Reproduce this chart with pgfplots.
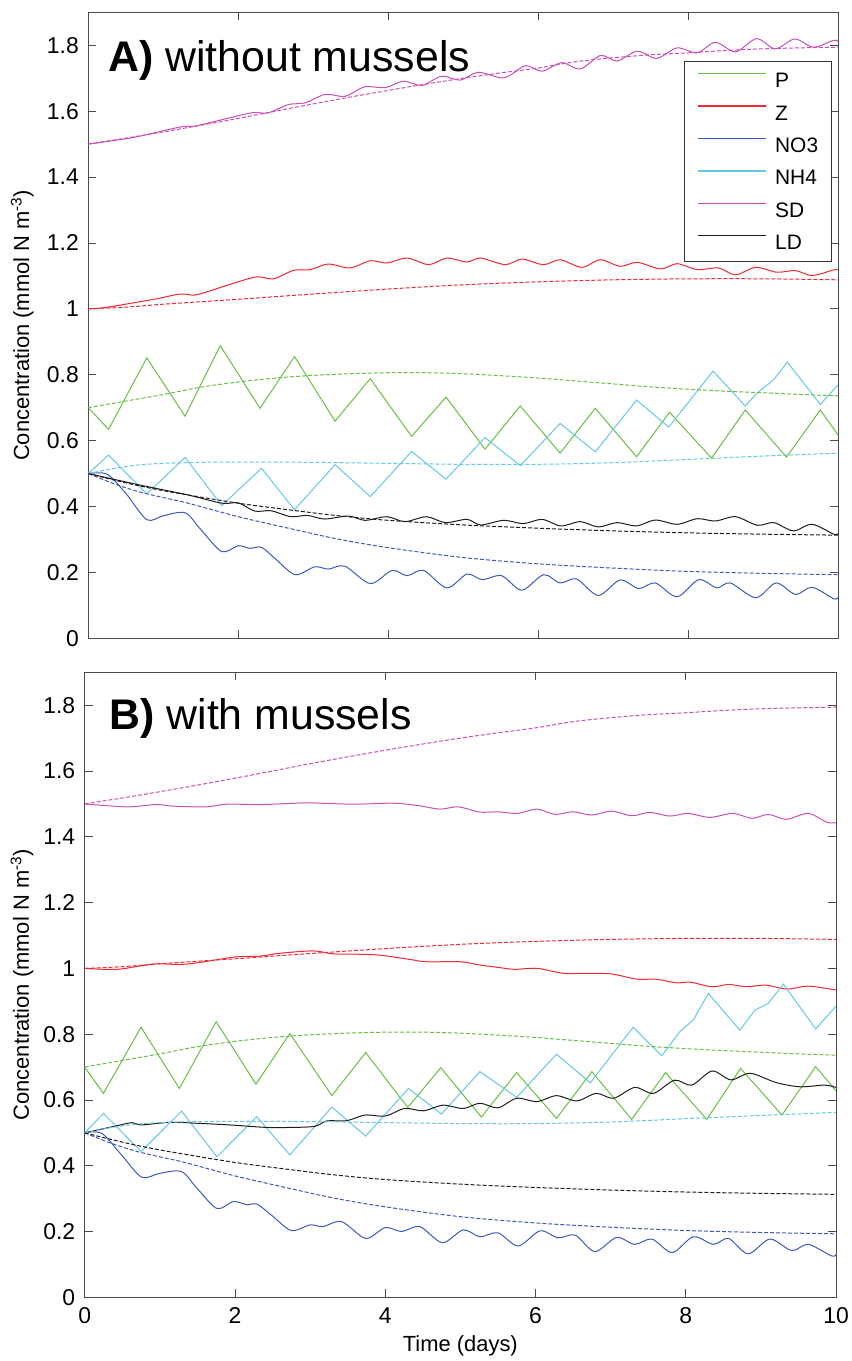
\documentclass[border=0pt]{standalone}
\usepackage{fontspec}
\setmainfont{Liberation Sans}
\usepackage{pgfplots}
\pgfplotsset{compat=1.18}
\definecolor{cP}{RGB}{105,190,70}
\definecolor{cZ}{RGB}{240,40,50}
\definecolor{cNO}{RGB}{60,90,190}
\definecolor{cNH}{RGB}{100,200,230}
\definecolor{cSD}{RGB}{200,80,180}
\definecolor{cLD}{RGB}{30,30,30}
\pgfplotsset{
  panel/.style={
    scale only axis, anchor=south west,
    xmin=0, xmax=10, ymin=0, ymax=1.9,
    xtick={0,2,4,6,8,10},
    ytick={0,0.2,0.4,0.6,0.8,1,1.2,1.4,1.6,1.8},
    tick align=inside, major tick length=8bp,
    axis line style={black!70, line width=0.8bp},
    tick style={black!70, line width=0.8bp},
    ticklabel style={font=\fontsize{23}{23}\selectfont, text=black},
    yticklabel style={xshift=-6bp},
    xticklabel style={yshift=-7bp},
    /pgf/number format/assume math mode=true,
    ylabel={Concentration (mmol N m\textsuperscript{-3})},
    label style={font=\fontsize{22}{22}\selectfont},
    clip=true,
  },
  das/.style={line width=1bp, dash pattern=on 4bp off 2bp, forget plot, smooth},
}
\begin{document}
\begin{tikzpicture}
\useasboundingbox (0,0) rectangle (852bp,1361bp);
% ---------------- Panel A ----------------
\begin{axis}[panel, at={(88.3bp,722.7bp)}, width=750bp, height=626bp,
  xticklabels={},
  ylabel style={at={(axis description cs:-0.088,0.5)}, anchor=center},
  legend style={at={(0.991,0.9227)}, anchor=north east, draw=black!80, line width=0.8bp, fill=white,
    font=\fontsize{21}{21}\selectfont, inner xsep=13bp, inner ysep=12bp, row sep=17.7bp,
    nodes={inner sep=0pt, text height=14bp, text depth=0bp},
    /tikz/every odd column/.append style={column sep=8bp}},
  legend cell align=left,
  legend image code/.code={\draw[#1, line width=1.4bp] (0bp,7bp) -- (68bp,7bp);},
]
\addplot[color=cP, line width=1bp, sharp plot] coordinates {(0,0.70)(0.27,0.634)(0.78,0.851)(1.29,0.674)(1.76,0.888)(2.29,0.698)(2.75,0.855)(3.29,0.659)(3.76,0.788)(4.31,0.613)(4.77,0.732)(5.29,0.574)(5.76,0.705)(6.29,0.562)(6.76,0.698)(7.31,0.551)(7.75,0.686)(8.31,0.547)(8.76,0.693)(9.31,0.55)(9.76,0.693)(10,0.616)};
\addlegendentry{P}
\addplot[color=cZ, line width=1bp, smooth] coordinates {(0,1.0)(0.2,1.003)(0.47,1.013)(0.9,1.03)(1.23,1.045)(1.45,1.043)(1.94,1.078)(2.25,1.097)(2.47,1.091)(2.74,1.117)(2.96,1.119)(3.2,1.136)(3.49,1.124)(3.76,1.146)(3.98,1.139)(4.25,1.154)(4.54,1.134)(4.78,1.154)(5.05,1.142)(5.23,1.154)(5.56,1.134)(5.78,1.151)(6.07,1.134)(6.29,1.149)(6.58,1.126)(6.83,1.149)(7.09,1.129)(7.32,1.141)(7.63,1.121)(7.85,1.137)(8.12,1.119)(8.4,1.124)(8.63,1.103)(8.9,1.126)(9.18,1.111)(9.43,1.116)(9.65,1.101)(9.94,1.118)(10,1.117)};
\addlegendentry{Z}
\addplot[color=cNO, line width=1bp, smooth] coordinates {(0,0.5)(0.25,0.498)(0.5,0.44)(0.78,0.36)(1.0,0.372)(1.29,0.381)(1.5,0.33)(1.78,0.263)(2.0,0.281)(2.15,0.273)(2.31,0.276)(2.5,0.24)(2.76,0.193)(3.02,0.217)(3.2,0.21)(3.42,0.219)(3.76,0.166)(4.05,0.206)(4.25,0.19)(4.47,0.206)(4.78,0.153)(5.05,0.195)(5.25,0.178)(5.51,0.19)(5.78,0.146)(6.07,0.193)(6.29,0.168)(6.51,0.18)(6.8,0.13)(7.09,0.177)(7.34,0.151)(7.56,0.168)(7.85,0.126)(8.14,0.178)(8.38,0.153)(8.56,0.168)(8.9,0.123)(9.17,0.168)(9.43,0.133)(9.65,0.155)(9.94,0.12)(10,0.125)};
\addlegendentry{NO3}
\addplot[color=cNH, line width=1bp, sharp plot] coordinates {(0,0.5)(0.27,0.556)(0.78,0.438)(1.29,0.549)(1.78,0.403)(2.31,0.516)(2.75,0.39)(3.29,0.527)(3.76,0.43)(4.31,0.567)(4.77,0.483)(5.29,0.609)(5.76,0.524)(6.29,0.652)(6.76,0.566)(7.31,0.723)(7.74,0.641)(8.33,0.811)(8.76,0.705)(8.92,0.745)(9.14,0.785)(9.32,0.838)(9.76,0.71)(10,0.77)};
\addlegendentry{NH4}
\addplot[color=cSD, line width=1bp, smooth] coordinates {(0,1.5)(0.6,1.52)(1.23,1.552)(1.43,1.555)(1.8,1.575)(2.18,1.595)(2.4,1.595)(2.67,1.62)(2.89,1.625)(3.16,1.651)(3.42,1.645)(3.69,1.674)(3.96,1.671)(4.2,1.691)(4.45,1.678)(4.71,1.706)(4.96,1.694)(5.2,1.718)(5.54,1.701)(5.83,1.738)(6.05,1.721)(6.31,1.747)(6.56,1.728)(6.83,1.769)(7.05,1.752)(7.32,1.782)(7.58,1.76)(7.85,1.792)(8.12,1.777)(8.36,1.809)(8.63,1.78)(8.91,1.82)(9.16,1.789)(9.42,1.819)(9.67,1.794)(9.94,1.815)(10,1.81)};
\addlegendentry{SD}
\addplot[color=cLD, line width=1bp, smooth] coordinates {(0,0.5)(0.67,0.466)(1.33,0.435)(1.78,0.41)(2.0,0.411)(2.22,0.386)(2.44,0.387)(2.7,0.369)(2.92,0.373)(3.15,0.362)(3.47,0.371)(3.69,0.358)(3.98,0.369)(4.22,0.354)(4.51,0.369)(4.76,0.351)(5.05,0.361)(5.23,0.344)(5.54,0.358)(5.8,0.348)(6.05,0.361)(6.3,0.341)(6.56,0.354)(6.8,0.338)(7.05,0.351)(7.31,0.341)(7.56,0.359)(7.85,0.346)(8.12,0.363)(8.36,0.356)(8.63,0.369)(8.92,0.343)(9.14,0.351)(9.4,0.326)(9.65,0.346)(9.94,0.316)(10,0.318)};
\addlegendentry{LD}
% dashed reference runs
\addplot[das, color=cP] coordinates {(0,0.70)(0.5,0.72)(1,0.74)(1.5,0.762)(2,0.778)(2.5,0.79)(3,0.798)(3.5,0.803)(4,0.806)(4.5,0.806)(5,0.803)(5.5,0.797)(6,0.79)(6.5,0.781)(7,0.772)(7.5,0.763)(8,0.756)(8.5,0.75)(9,0.745)(9.5,0.74)(10,0.736)};
\addplot[das, color=cZ] coordinates {(0,1.0)(0.5,1.005)(1,1.014)(2,1.029)(3,1.045)(4,1.06)(5,1.073)(6,1.082)(7,1.088)(8,1.091)(9,1.091)(10,1.088)};
\addplot[das, color=cNO] coordinates {(0,0.5)(0.33,0.47)(0.67,0.445)(1,0.427)(1.33,0.41)(2,0.369)(2.67,0.334)(3.33,0.301)(4,0.275)(5,0.245)(6,0.226)(7,0.213)(8,0.203)(9,0.197)(10,0.193)};
\addplot[das, color=cNH] coordinates {(0,0.5)(0.33,0.515)(0.67,0.526)(1,0.531)(1.5,0.534)(2,0.535)(3,0.534)(4,0.531)(5,0.528)(6,0.528)(7,0.533)(8,0.543)(9,0.553)(10,0.562)};
\addplot[das, color=cSD] coordinates {(0,1.5)(0.5,1.518)(1,1.537)(1.5,1.557)(2,1.578)(2.5,1.6)(3,1.622)(3.5,1.643)(4,1.663)(4.5,1.682)(5,1.7)(5.5,1.716)(6,1.731)(6.5,1.75)(7,1.762)(7.5,1.771)(8,1.777)(8.5,1.784)(9,1.789)(9.5,1.792)(10,1.794)};
\addplot[das, color=cLD] coordinates {(0,0.5)(0.33,0.481)(0.67,0.463)(1,0.448)(1.33,0.435)(2,0.41)(2.67,0.39)(3.33,0.372)(4,0.358)(5,0.344)(6,0.334)(7,0.326)(8,0.32)(9,0.316)(10,0.313)};
\node[anchor=base west, inner sep=0pt, font=\fontsize{43}{43}\selectfont] at (rel axis cs:0.0263,0.905) {\textbf{A)} without mussels};
\end{axis}
% ---------------- Panel B ----------------
\begin{axis}[panel, at={(84.7bp,63.7bp)}, width=751.3bp, height=625bp,
  xlabel={Time (days)},
  xlabel style={at={(axis description cs:0.5,-0.078)}, anchor=center},
  ylabel style={at={(axis description cs:-0.0835,0.5)}, anchor=center},
]
\addplot[color=cP, line width=1bp, sharp plot] coordinates {(0,0.699)(0.25,0.62)(0.75,0.821)(1.26,0.635)(1.75,0.838)(2.28,0.648)(2.73,0.802)(3.29,0.613)(3.74,0.744)(4.3,0.577)(4.74,0.698)(5.28,0.548)(5.75,0.683)(6.28,0.544)(6.75,0.686)(7.28,0.541)(7.73,0.683)(8.28,0.541)(8.73,0.696)(9.28,0.554)(9.73,0.701)(10,0.628)};
\addplot[color=cZ, line width=1bp, smooth] coordinates {(0,1.0)(0.43,0.997)(0.91,1.013)(1.22,1.012)(1.44,1.015)(2.02,1.035)(2.33,1.037)(2.6,1.046)(3.04,1.053)(3.31,1.044)(3.62,1.043)(3.93,1.04)(4.33,1.027)(4.55,1.02)(5.0,1.02)(5.26,1.01)(5.5,1.003)(5.72,0.997)(6.02,1.0)(6.37,0.985)(6.68,0.985)(7.01,0.983)(7.35,0.967)(7.6,0.967)(7.88,0.956)(8.06,0.958)(8.35,0.944)(8.57,0.951)(8.81,0.944)(9.06,0.949)(9.35,0.937)(9.63,0.946)(10,0.934)};
\addplot[color=cNO, line width=1bp, smooth] coordinates {(0,0.5)(0.23,0.498)(0.5,0.43)(0.76,0.365)(1.0,0.377)(1.29,0.382)(1.5,0.33)(1.76,0.27)(1.98,0.291)(2.17,0.281)(2.29,0.284)(2.5,0.247)(2.75,0.203)(3.0,0.22)(3.17,0.215)(3.42,0.23)(3.74,0.179)(4.0,0.212)(4.22,0.2)(4.46,0.215)(4.76,0.166)(5.04,0.205)(5.26,0.184)(5.5,0.196)(5.77,0.156)(6.06,0.202)(6.3,0.181)(6.53,0.189)(6.79,0.139)(7.08,0.182)(7.32,0.161)(7.55,0.177)(7.82,0.136)(8.1,0.184)(8.37,0.161)(8.57,0.179)(8.83,0.132)(9.12,0.177)(9.41,0.142)(9.63,0.161)(9.94,0.126)(10,0.13)};
\addplot[color=cNH, line width=1bp, sharp plot] coordinates {(0,0.5)(0.25,0.559)(0.75,0.443)(1.29,0.566)(1.76,0.427)(2.29,0.549)(2.73,0.433)(3.29,0.578)(3.74,0.49)(4.31,0.635)(4.75,0.557)(5.26,0.686)(5.75,0.608)(6.28,0.739)(6.73,0.652)(7.3,0.821)(7.68,0.734)(7.92,0.807)(8.1,0.843)(8.3,0.924)(8.72,0.812)(8.92,0.873)(9.1,0.894)(9.3,0.952)(9.73,0.816)(10,0.885)};
\addplot[color=cSD, line width=1bp, smooth] coordinates {(0,1.5)(0.56,1.491)(0.95,1.498)(1.18,1.493)(1.62,1.491)(1.89,1.499)(2.38,1.498)(2.95,1.503)(3.57,1.499)(4.11,1.502)(4.46,1.494)(4.73,1.484)(4.97,1.491)(5.26,1.475)(5.5,1.476)(5.75,1.471)(6.02,1.484)(6.26,1.468)(6.5,1.476)(6.75,1.466)(7.01,1.478)(7.28,1.464)(7.52,1.474)(7.79,1.463)(8.03,1.471)(8.32,1.459)(8.63,1.471)(8.88,1.456)(9.1,1.468)(9.34,1.453)(9.63,1.471)(9.88,1.444)(10,1.443)};
\addplot[color=cLD, line width=1bp, smooth] coordinates {(0,0.5)(0.38,0.519)(0.63,0.531)(0.75,0.524)(1.14,0.532)(1.5,0.529)(1.93,0.524)(2.24,0.519)(2.51,0.516)(3.04,0.519)(3.22,0.536)(3.49,0.537)(3.73,0.554)(4.0,0.551)(4.26,0.574)(4.51,0.567)(4.77,0.584)(5.04,0.574)(5.26,0.59)(5.5,0.576)(5.75,0.605)(6.02,0.595)(6.28,0.613)(6.55,0.597)(6.81,0.62)(7.04,0.605)(7.32,0.638)(7.57,0.62)(7.85,0.66)(8.08,0.645)(8.35,0.688)(8.6,0.661)(8.86,0.681)(9.2,0.653)(9.52,0.64)(9.85,0.645)(10,0.638)};
% dashed reference runs
\addplot[das, color=cP] coordinates {(0,0.70)(0.5,0.72)(1,0.74)(1.5,0.762)(2,0.778)(2.5,0.79)(3,0.798)(3.5,0.803)(4,0.806)(4.5,0.806)(5,0.803)(5.5,0.797)(6,0.79)(6.5,0.781)(7,0.772)(7.5,0.763)(8,0.756)(8.5,0.75)(9,0.745)(9.5,0.74)(10,0.736)};
\addplot[das, color=cZ] coordinates {(0,1.0)(0.5,1.005)(1,1.014)(2,1.029)(3,1.045)(4,1.06)(5,1.073)(6,1.082)(7,1.088)(8,1.091)(9,1.091)(10,1.088)};
\addplot[das, color=cNO] coordinates {(0,0.5)(0.33,0.47)(0.67,0.445)(1,0.427)(1.33,0.41)(2,0.369)(2.67,0.334)(3.33,0.301)(4,0.275)(5,0.245)(6,0.226)(7,0.213)(8,0.203)(9,0.197)(10,0.193)};
\addplot[das, color=cNH] coordinates {(0,0.5)(0.33,0.515)(0.67,0.526)(1,0.531)(1.5,0.534)(2,0.535)(3,0.534)(4,0.531)(5,0.528)(6,0.528)(7,0.533)(8,0.543)(9,0.553)(10,0.562)};
\addplot[das, color=cSD] coordinates {(0,1.5)(0.5,1.518)(1,1.537)(1.5,1.557)(2,1.578)(2.5,1.6)(3,1.622)(3.5,1.643)(4,1.663)(4.5,1.682)(5,1.7)(5.5,1.716)(6,1.731)(6.5,1.75)(7,1.762)(7.5,1.771)(8,1.777)(8.5,1.784)(9,1.789)(9.5,1.792)(10,1.794)};
\addplot[das, color=cLD] coordinates {(0,0.5)(0.33,0.481)(0.67,0.463)(1,0.448)(1.33,0.435)(2,0.41)(2.67,0.39)(3.33,0.372)(4,0.358)(5,0.344)(6,0.334)(7,0.326)(8,0.32)(9,0.316)(10,0.313)};
\node[anchor=base west, inner sep=0pt, font=\fontsize{43}{43}\selectfont] at (rel axis cs:0.0327,0.9077) {\textbf{B)} with mussels};
\end{axis}
\end{tikzpicture}
\end{document}
